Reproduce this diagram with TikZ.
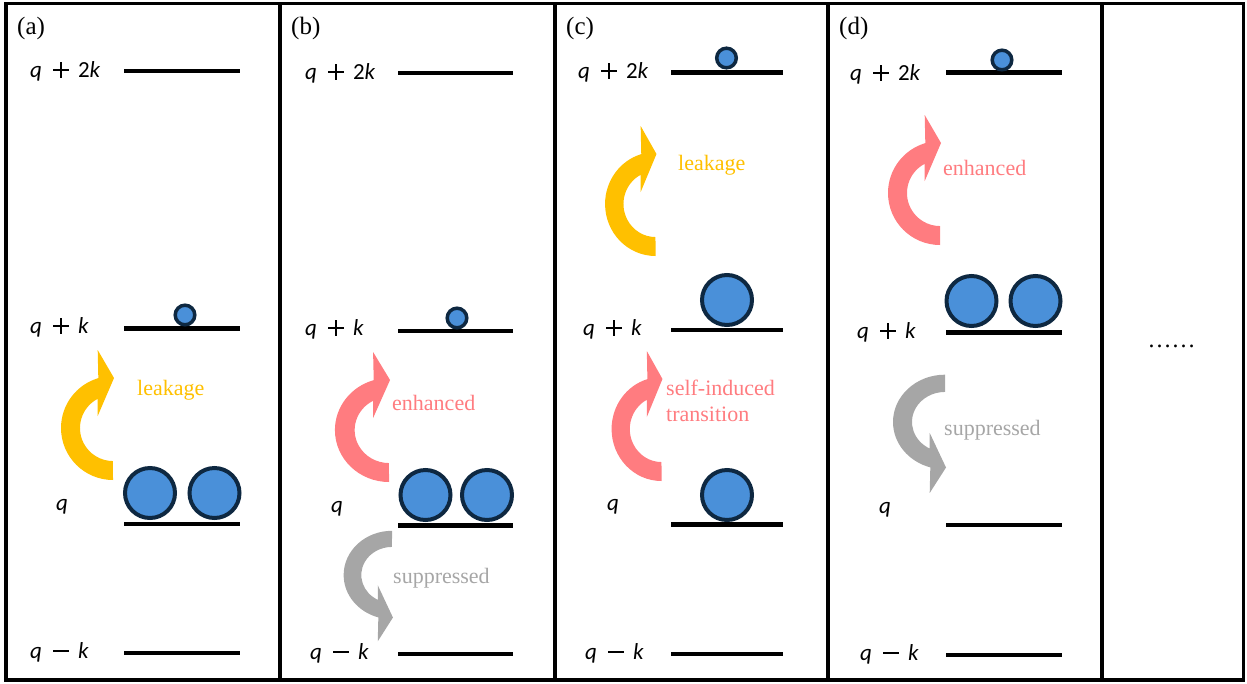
\documentclass[tikz,border=0pt]{standalone}
\usepackage{fontspec}
\setmainfont{Liberation Serif}
\newfontfamily\lblfont{Carlito}
\newfontfamily\serifnote{Liberation Serif}
\definecolor{ballfill}{RGB}{74,144,217}
\definecolor{balledge}{RGB}{14,40,65}
\definecolor{leakc}{RGB}{255,192,0}
\definecolor{enhc}{RGB}{255,124,128}
\definecolor{supc}{RGB}{166,166,166}
\newcommand\opplus{\hspace{11pt}\rlap{\rule[6.4pt]{16pt}{1.7pt}}\hspace{7.15pt}\rule[-0.8pt]{1.7pt}{16pt}\hspace{7.15pt}\hspace{9pt}}
\newcommand\opminus{\hspace{11pt}\rule[6.4pt]{16pt}{1.7pt}\hspace{9pt}}
\newcommand\qtwok{{\itshape q}\opplus2{\itshape k}}
\newcommand\qplusk{{\itshape q}\opplus{\itshape k}}
\newcommand\qminusk{{\itshape q}\opminus{\itshape k}}
\newcommand\bendarrow[5]{\fill[#5,shift={(#1,#2)},xscale=#3,yscale=#4] (0,-52) arc[start angle=-90,end angle=-253.6,radius=52] -- (-15.3,78) -- (1,50) -- (-15.3,12) -- (-15.3,29.2) arc[start angle=117.6,end angle=270,radius=33] -- cycle;}
\begin{document}
\begin{tikzpicture}[x=1pt,y=1pt,yscale=-1]
\tikzset{
 level/.style={line width=4.5pt},
 bigball/.style={fill=ballfill,draw=balledge,line width=4pt},
 smallball/.style={fill=ballfill,draw=balledge,line width=3.5pt},
 lvl/.style={anchor=base west,inner sep=0pt,font=\lblfont\fontsize{23}{27}\selectfont},
 tag/.style={anchor=base west,inner sep=0pt,font=\serifnote\fontsize{25}{30}\selectfont},
 notetxt/.style={anchor=base west,inner sep=0pt,font=\serifnote\fontsize{22}{26}\selectfont},
 frame/.style={line width=3.5pt}
}
\useasboundingbox (0,0) rectangle (1247,683);
% frame and dividers
\draw[frame] (6,3.5) rectangle (1243.5,680);
\foreach \xx in {280,555,828,1102} \draw[frame] (\xx,3.5) -- (\xx,680);

% ---------- panel (a)
\node[tag] (ta) at (17,34) {(a)};
\draw[level] (124,71) -- (240,71);
\draw[level] (124,328.5) -- (240,328.5);
\draw[level] (124,524) -- (240,524);
\draw[level] (124,653) -- (240,653);
\node[lvl] (a1) at (30,77) {\qtwok};
\node[lvl] (a2) at (30,333) {\qplusk};
\node[lvl] (a3) at (56,510) {\itshape q};
\node[lvl] (a4) at (30,658) {\qminusk};
\draw[smallball] (185,315) circle[radius=9.8];
\draw[bigball] (150,493) circle[radius=25];
\draw[bigball] (214.5,493) circle[radius=25];
\bendarrow{113}{428}{1}{-1}{leakc}
\node[notetxt,text=leakc] (an) at (137,395) {leakage};

% ---------- panel (b)
\node[tag] (tb) at (291,34) {(b)};
\draw[level] (398,73) -- (513,73);
\draw[level] (398,331) -- (513,331);
\draw[level] (398,525.5) -- (513,525.5);
\draw[level] (398,654) -- (513,654);
\node[lvl] (b1) at (305,79) {\qtwok};
\node[lvl] (b2) at (305,335) {\qplusk};
\node[lvl] (b3) at (331,512) {\itshape q};
\node[lvl] (b4) at (310,659) {\qminusk};
\draw[smallball] (457,318) circle[radius=9.8];
\draw[bigball] (425.5,495) circle[radius=25];
\draw[bigball] (487,495) circle[radius=25];
\bendarrow{389}{430}{1.04}{-1}{enhc}
\bendarrow{392}{575}{0.93}{0.85}{supc}
\node[notetxt,text=enhc] (bn) at (392,410) {enhanced};
\node[notetxt,text=supc] (bs) at (393,583) {suppressed};

% ---------- panel (c)
\node[tag] (tc) at (566,34) {(c)};
\draw[level] (671,72.5) -- (783,72.5);
\draw[level] (671,330) -- (783,330);
\draw[level] (671,524.5) -- (783,524.5);
\draw[level] (671,654) -- (783,654);
\node[lvl] (c1) at (578,78) {\qtwok};
\node[lvl] (c2) at (583,335) {\qplusk};
\node[lvl] (c3) at (607,510) {\itshape q};
\node[lvl] (c4) at (585,659) {\qminusk};
\draw[smallball] (726.5,58) circle[radius=9.8];
\draw[bigball] (727,300) circle[radius=25];
\draw[bigball] (727,495) circle[radius=25];
\bendarrow{655.5}{204}{0.97}{-1}{leakc}
\bendarrow{661.5}{429}{0.96}{-1}{enhc}
\node[notetxt,text=leakc] (cn) at (678,170) {leakage};
\node[notetxt,text=enhc] (cs1) at (666,395) {self-induced};
\node[notetxt,text=enhc] (cs2) at (666,421.5) {transition};

% ---------- panel (d)
\node[tag] (td) at (839,34) {(d)};
\draw[level] (946,72.5) -- (1062,72.5);
\draw[level] (946,332.5) -- (1062,332.5);
\draw[level] (946,525) -- (1062,525);
\draw[level] (946,655) -- (1062,655);
\node[lvl] (d1) at (850,80) {\qtwok};
\node[lvl] (d2) at (857,338) {\qplusk};
\node[lvl] (d3) at (879,513) {\itshape q};
\node[lvl] (d4) at (860,660) {\qminusk};
\draw[smallball] (1002,60) circle[radius=9.8];
\draw[bigball] (971.5,301) circle[radius=25];
\draw[bigball] (1035.5,301) circle[radius=25];
\bendarrow{940}{193}{1}{-1}{enhc}
\bendarrow{945}{422}{1}{0.91}{supc}
\node[notetxt,text=enhc] (dn) at (943,175) {enhanced};
\node[notetxt,text=supc] (ds) at (944,435) {suppressed};

% ---------- panel (e)
\node[anchor=base,inner sep=0pt,font=\serifnote\fontsize{24}{28}\selectfont] (dots) at (1171.5,347) {……};
\end{tikzpicture}
\end{document}
